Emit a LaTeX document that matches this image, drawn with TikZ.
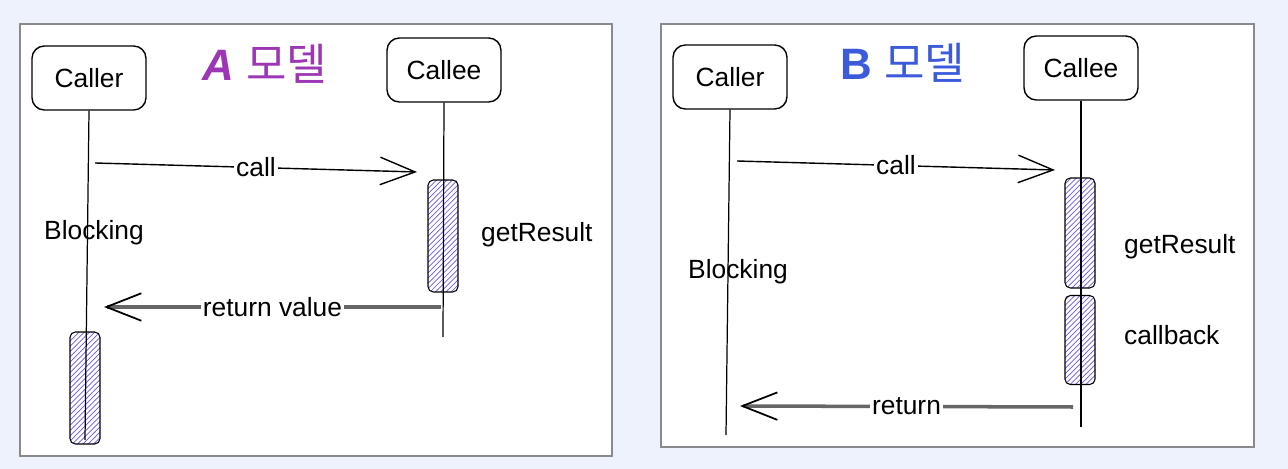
\documentclass[tikz,border=0pt]{standalone}
\usepackage{fontspec}
\setmainfont{Liberation Sans}
\newfontfamily\krfont{Noto Sans CJK KR}
\usetikzlibrary{arrows.meta,patterns}
\definecolor{bgblue}{HTML}{EEF2FC}
\definecolor{framegray}{HTML}{8A8A8E}
\definecolor{titlepurple}{HTML}{9C36B5}
\definecolor{titleblue}{HTML}{3B5BDB}
\definecolor{hatch}{HTML}{6A5AE0}
\tikzset{
  actor/.style={draw,thick,rounded corners=7pt,minimum width=2.28cm,minimum height=1.28cm,font=\fontsize{15}{18}\selectfont},
  active/.style={draw,semithick,rounded corners=3pt,fill=hatch!15,pattern=north east lines,pattern color=hatch,minimum width=0.6cm},
  lifeline/.style={line width=0.7pt},
  msg/.style={line width=0.8pt,-{Straight Barb[length=7mm,width=5.5mm]}},
  reply/.style={line width=2pt,black!60,-{Straight Barb[length=7mm,width=5.5mm,black,line width=1pt]}},
  lbl/.style={font=\fontsize{15}{18}\selectfont},
  txt/.style={fill=white,inner sep=1pt,font=\fontsize{15}{18}\selectfont},
  title/.style={font=\fontsize{25}{29}\selectfont}
}
\begin{document}
\begin{tikzpicture}[x=0.02cm,y=-0.02cm]
    \fill[bgblue] (0,0) rectangle (1288,469);
    \useasboundingbox (0,0) rectangle (1288,469);
    % panels
    \draw[framegray,line width=1pt,fill=white] (20,24) rectangle (612,456);
    \draw[framegray,line width=1pt,fill=white] (661,24) rectangle (1254,447);

    % A model
    \node[title,titlepurple] (titleA) at (265,64) {\textit{\textbf{A}} \krfont 모델};
    \node[actor] (callerA) at (89,78) {Caller};
    \node[actor] (calleeA) at (444,70) {Callee};
    \node[active,minimum height=2.24cm] (workA) at (443,236) {};
    \node[active,minimum height=2.24cm] (waitA) at (85,388) {};
    \coordinate (callerAend) at (85,440);
    \coordinate (calleeAend) at (443,337);
    \draw[lifeline] (callerA.south) -- (callerAend);
    \draw[lifeline] (calleeA.south) -- (calleeAend);
    \coordinate (callAfrom) at (95,163);
    \coordinate (callAto) at (417,172);
    \draw[msg] (callAfrom) -- (callAto) node[txt,pos=0.5]{call};
    \coordinate (retAfrom) at (441,307);
    \coordinate (retAto) at (104,307);
    \draw[reply] (retAfrom) -- (retAto) node[txt,text=black,pos=0.5]{return value};
    \node[lbl,anchor=west] (blockA) at (38,233) {Blocking};
    \node[lbl,anchor=west] (resultA) at (475,235) {getResult};

    % B model
    \node[title,titleblue] (titleB) at (903,63) {\textbf{B} \krfont 모델};
    \node[actor] (callerB) at (730,77) {Caller};
    \node[actor] (calleeB) at (1081,68) {Callee};
    \node[active,minimum height=2.2cm] (workB) at (1080,233) {};
    \node[active,minimum height=1.78cm] (backB) at (1080,340) {};
    \coordinate (callerBend) at (726,435);
    \coordinate (calleeBend) at (1081,427);
    \draw[lifeline] (callerB.south) -- (callerBend);
    \draw[lifeline] (calleeB.south) -- (calleeBend);
    \coordinate (callBfrom) at (737,161);
    \coordinate (callBto) at (1055,170);
    \draw[msg] (callBfrom) -- (callBto) node[txt,pos=0.5]{call};
    \coordinate (retBfrom) at (1073,407);
    \coordinate (retBto) at (740,406);
    \draw[reply] (retBfrom) -- (retBto) node[txt,text=black,pos=0.5]{return};
    \node[lbl,anchor=west] (blockB) at (682,272) {Blocking};
    \node[lbl,anchor=west] (resultB) at (1118,247) {getResult};
    \node[lbl,anchor=west] (cbB) at (1118,335) {callback};
\end{tikzpicture}
\end{document}
